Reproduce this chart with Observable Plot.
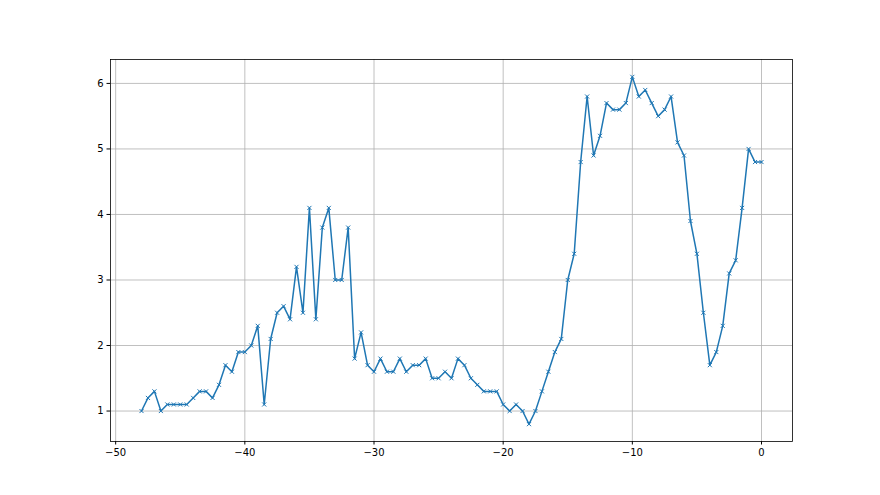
<!DOCTYPE html>
<html>
<head>
<meta charset="utf-8">
<script src="https://cdn.jsdelivr.net/npm/d3@7"></script>
<script src="https://cdn.jsdelivr.net/npm/@observablehq/plot@0.6"></script>
<style>
  html, body { margin: 0; padding: 0; background: #fff; }
  #chart svg { display: block; }
</style>
</head>
<body>
<div id="chart"></div>
<script>
const xs = [-48, -47.5, -47, -46.5, -46, -45.5, -45, -44.5, -44, -43.5, -43, -42.5, -42, -41.5, -41, -40.5, -40, -39.5, -39, -38.5,
  -38, -37.5, -37, -36.5, -36, -35.5, -35, -34.5, -34, -33.5, -33, -32.5, -32, -31.5, -31, -30.5, -30, -29.5, -29, -28.5,
  -28, -27.5, -27, -26.5, -26, -25.5, -25, -24.5, -24, -23.5, -23, -22.5, -22, -21.5, -21, -20.5, -20, -19.5, -19, -18.5,
  -18, -17.5, -17, -16.5, -16, -15.5, -15, -14.5, -14, -13.5, -13, -12.5, -12, -11.5, -11, -10.5, -10, -9.5, -9, -8.5,
  -8, -7.5, -7, -6.5, -6, -5.5, -5, -4.5, -4, -3.5, -3, -2.5, -2, -1.5, -1, -0.5, 0];
const ys = [1.0, 1.2, 1.3, 1.0, 1.1, 1.1, 1.1, 1.1, 1.2, 1.3, 1.3, 1.2, 1.4, 1.7, 1.6, 1.9, 1.9, 2.0, 2.3, 1.1,
  2.1, 2.5, 2.6, 2.4, 3.2, 2.5, 4.1, 2.4, 3.8, 4.1, 3.0, 3.0, 3.8, 1.8, 2.2, 1.7, 1.6, 1.8, 1.6, 1.6,
  1.8, 1.6, 1.7, 1.7, 1.8, 1.5, 1.5, 1.6, 1.5, 1.8, 1.7, 1.5, 1.4, 1.3, 1.3, 1.3, 1.1, 1.0, 1.1, 1.0,
  0.8, 1.0, 1.3, 1.6, 1.9, 2.1, 3.0, 3.4, 4.8, 5.8, 4.9, 5.2, 5.7, 5.6, 5.6, 5.7, 6.1, 5.8, 5.9, 5.7,
  5.5, 5.6, 5.8, 5.1, 4.9, 3.9, 3.4, 2.5, 1.7, 1.9, 2.3, 3.1, 3.3, 4.1, 5.0, 4.8, 4.8];
const xTicks = [-50, -40, -30, -20, -10, 0];
const yTicks = [1, 2, 3, 4, 5, 6];

const data = xs.map((x, i) => ({x, y: ys[i]}));

const chart = Plot.plot({
  width: 880,
  height: 495,
  marginLeft: 110,
  marginRight: 88,
  marginTop: 59,
  marginBottom: 54,
  style: {fontFamily: "DejaVu Sans", fontSize: "10px", color: "#000", background: "#fff"},
  x: {domain: [-50.4, 2.4]},
  y: {domain: [0.535, 6.365]},
  marks: [
    Plot.gridX(xTicks, {stroke: "#b0b0b0", strokeOpacity: 1, strokeWidth: 0.8}),
    Plot.gridY(yTicks, {stroke: "#b0b0b0", strokeOpacity: 1, strokeWidth: 0.8}),
    Plot.line(data, {x: "x", y: "y", stroke: "#1f77b4", strokeWidth: 1.5}),
    Plot.dot(data, {x: "x", y: "y", symbol: "times", r: 2, stroke: "#1f77b4", strokeWidth: 1}),
    Plot.frame({stroke: "#000", strokeWidth: 0.8}),
    Plot.axisX(xTicks, {tickSize: 3.5, tickPadding: 3.5, label: null, stroke: "#000", fill: "#000", tickFormat: d3.format("d")}),
    Plot.axisY(yTicks, {tickSize: 3.5, tickPadding: 3.5, label: null, stroke: "#000", fill: "#000", tickFormat: d3.format("d")})
  ]
});
document.getElementById("chart").appendChild(chart);
</script>
</body>
</html>
